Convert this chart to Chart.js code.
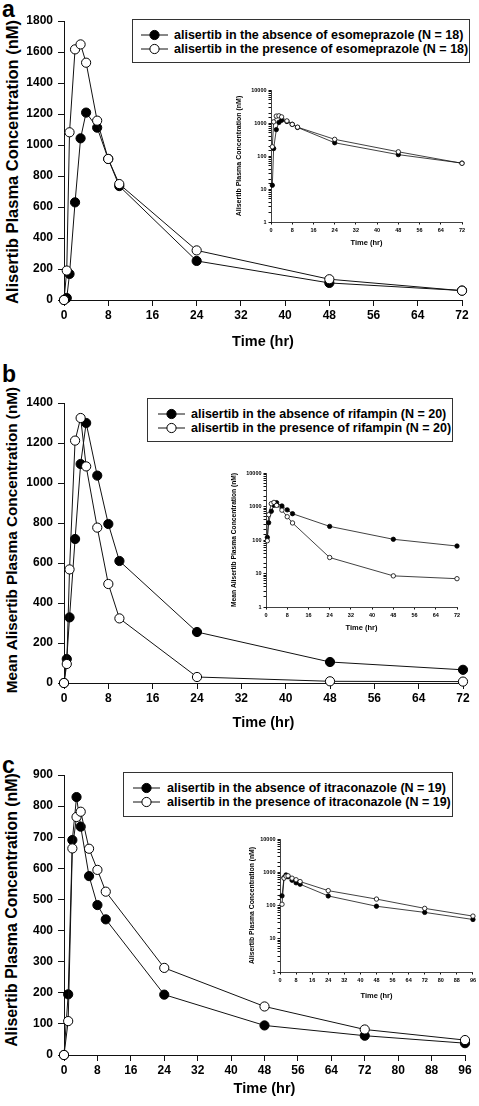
<!DOCTYPE html>
<html>
<head>
<meta charset="utf-8">
<script src="https://cdn.jsdelivr.net/npm/chart.js@4.4.1/dist/chart.umd.min.js"></script>
<style>
  body { margin: 0; background: #fff; width: 479px; height: 1106px; overflow: hidden; position: relative; font-family: "Liberation Sans", Arial, sans-serif; }
  canvas { position: absolute; }
  .letter { position: absolute; font-weight: bold; font-size: 23px; line-height: 23px; color: #000; }
  .ytitle { position: absolute; font-weight: bold; color: #000; white-space: nowrap; transform: translate(-50%, -50%) rotate(-90deg); }
  .legend { position: absolute; border: 1px solid #333; background: #fff; box-sizing: border-box; }
  .legend .row { position: absolute; left: 0; height: 14px; white-space: nowrap; font-weight: bold; font-size: 12.5px; line-height: 14px; color: #000; }
  .legend svg { position: absolute; top: 0; }
  .legend span { position: absolute; top: 0; }
</style>
</head>
<body>

<div class="letter" style="left:2px; top:-2.5px;">a</div>
<div class="letter" style="left:2px; top:362.5px;">b</div>
<div class="letter" style="left:2px; top:753.5px;">c</div>

<div class="ytitle" style="left:11.5px; top:162px; font-size:16.5px;">Alisertib Plasma Concentration (nM)</div>
<div class="ytitle" style="left:11.5px; top:540px; font-size:15.3px;">Mean Alisertib Plasma Concentration (nM)</div>
<div class="ytitle" style="left:11.5px; top:910px; font-size:15.9px;">Alisertib Plasma Concentration (nM)</div>

<canvas id="mainA" width="479" height="360" style="left:0; top:0;"></canvas>
<canvas id="mainB" width="479" height="380" style="left:0; top:360px;"></canvas>
<canvas id="mainC" width="479" height="366" style="left:0; top:740px;"></canvas>
<canvas id="insetA" width="245" height="175" style="left:228px; top:80px;"></canvas>
<canvas id="insetB" width="245" height="175" style="left:225px; top:463px;"></canvas>
<canvas id="insetC" width="239" height="180" style="left:240px; top:829px;"></canvas>

<div id="legA" class="legend" style="left:132px; top:19px; width:338px; height:44px;"></div>
<div id="legB" class="legend" style="left:147px; top:398px; width:306px; height:44px;"></div>
<div id="legC" class="legend" style="left:123px; top:772px; width:330px; height:45px;"></div>

<script>
// panel a: esomeprazole
const timesA = [0, 0.5, 1, 2, 3, 4, 6, 8, 10, 24, 48, 72];
const esoAbsent = [0, 13, 168, 630, 1043, 1209, 1112, 910, 735, 252, 110, 61];
const esoPresent = [0, 190, 1082, 1617, 1649, 1531, 1157, 910, 748, 320, 134, 60];
const labelsA = ['alisertib in the absence of esomeprazole (N = 18)', 'alisertib in the presence of esomeprazole (N = 18)'];

// panel b: rifampin
const timesB = [0, 0.5, 1, 2, 3, 4, 6, 8, 10, 24, 48, 72];
const rifAbsent = [0, 120, 328, 720, 1095, 1300, 1037, 795, 610, 255, 105, 66];
const rifPresent = [0, 95, 568, 1212, 1325, 1083, 777, 495, 323, 30, 8.5, 7];
const labelsB = ['alisertib in the absence of rifampin (N = 20)', 'alisertib in the presence of rifampin (N = 20)'];

// panel c: itraconazole
const timesC = [0, 1, 2, 3, 4, 6, 8, 10, 24, 48, 72, 96];
const itraAbsent = [0, 195, 691, 829, 734, 575, 482, 436, 194, 95, 62, 38];
const itraPresent = [0, 109, 664, 765, 782, 663, 595, 525, 280, 156, 82, 48];
const labelsC = ['alisertib in the absence of itraconazole (N = 19)', 'alisertib in the presence of itraconazole (N = 19)'];

const FONT = '"Liberation Sans", Arial, sans-serif';
const INK = '#111';

function pts(times, vals, logScale) {
    return times.map(function (t, i) {
        var v = vals[i];
        if (logScale && v <= 0) v = null;
        return {x: t, y: v};
    });
}

function plain(v) { return String(v); }

function lineSets(times, absent, present, r, bw, logScale) {
    return [{
        data: pts(times, absent, logScale),
        borderColor: INK, borderWidth: bw,
        pointBackgroundColor: '#000', pointBorderColor: '#000',
        pointRadius: r, pointBorderWidth: bw,
        tension: 0, clip: false, order: 2
    }, {
        data: pts(times, present, logScale),
        borderColor: INK, borderWidth: bw,
        pointBackgroundColor: '#fff', pointBorderColor: '#000',
        pointRadius: r, pointBorderWidth: bw,
        tension: 0, clip: false, order: 1
    }];
}

function makeMain(id, times, absent, present, p) {
    new Chart(document.getElementById(id), {
        type: 'line',
        data: {datasets: lineSets(times, absent, present, 4.6, 1, false)},
        options: {
            responsive: false,
            animation: false,
            events: [],
            layout: {padding: {top: p.top, right: p.right, left: 0, bottom: 0}},
            plugins: {legend: {display: false}, tooltip: {enabled: false}},
            scales: {
                x: {
                    type: 'linear', min: 0, max: p.xMax,
                    ticks: {stepSize: 8, autoSkip: false, maxRotation: 0, color: '#000', padding: 2,
                        font: {family: FONT, size: 12, weight: 'bold'}, callback: plain},
                    grid: {drawOnChartArea: false, tickLength: 6, color: INK},
                    border: {color: INK, width: 1},
                    title: {display: true, text: 'Time (hr)', color: '#000',
                        font: {family: FONT, size: 14.5, weight: 'bold'},
                        padding: {top: 0, bottom: p.titlePad}},
                    afterFit: function (s) { s.height = p.xHeight; }
                },
                y: {
                    type: 'linear', min: 0, max: p.yMax,
                    ticks: {stepSize: p.yStep, autoSkip: false, color: '#000', padding: 5,
                        font: {family: FONT, size: 12, weight: 'bold'}, callback: plain},
                    grid: {drawOnChartArea: false, tickLength: 6, color: INK},
                    border: {color: INK, width: 1},
                    afterFit: function (s) { s.width = 64; }
                }
            }
        }
    });
}

function makeInset(id, times, absent, present, p) {
    new Chart(document.getElementById(id), {
        type: 'line',
        data: {datasets: lineSets(times, absent, present, 2.2, 0.8, true)},
        options: {
            responsive: false,
            animation: false,
            events: [],
            spanGaps: true,
            layout: {padding: {top: 10, right: p.right, left: 0, bottom: 0}},
            plugins: {legend: {display: false}, tooltip: {enabled: false}},
            scales: {
                x: {
                    type: 'linear', min: 0, max: p.xMax,
                    ticks: {stepSize: 8, autoSkip: false, maxRotation: 0, color: '#000', padding: 3,
                        font: {family: FONT, size: 5.5, weight: 'bold'}, callback: plain},
                    grid: {drawOnChartArea: false, tickLength: 2.5, color: INK},
                    border: {color: INK, width: 0.8},
                    title: {display: true, text: 'Time (hr)', color: '#000',
                        font: {family: FONT, size: 7.5, weight: 'bold'},
                        padding: {top: 0, bottom: p.titlePad}},
                    afterFit: function (s) { s.height = p.xHeight; }
                },
                y: {
                    type: 'logarithmic', min: 1, max: 10000,
                    ticks: {autoSkip: false, color: '#000', padding: 2,
                        font: {family: FONT, size: 5.5, weight: 'bold'},
                        callback: function (v) {
                            var l = Math.log10(v);
                            return Math.abs(l - Math.round(l)) < 1e-9 ? String(v) : '';
                        }},
                    grid: {drawOnChartArea: false, tickLength: 2.5, color: INK},
                    border: {color: INK, width: 0.8},
                    title: {display: true, text: p.yTitle, color: '#000',
                        font: {family: FONT, size: p.yTitleSize, weight: 'bold'},
                        padding: {top: p.yTitlePad, bottom: 0}},
                    afterFit: function (s) { s.width = p.yWidth; }
                }
            }
        }
    });
}

function makeLegend(id, labels, lineStart, textStart) {
    var box = document.getElementById(id);
    var fills = ['#000', '#fff'];
    var rows = [8, 22];
    for (var i = 0; i < labels.length; i++) {
        var row = document.createElement('div');
        row.className = 'row';
        row.style.top = rows[i] + 'px';
        row.innerHTML =
            '<svg width="32" height="14" style="left:' + lineStart + 'px">' +
            '<line x1="0" y1="7" x2="27" y2="7" stroke="' + INK + '" stroke-width="1"/>' +
            '<circle cx="13.5" cy="7" r="4.6" fill="' + fills[i] + '" stroke="#000" stroke-width="1"/></svg>' +
            '<span style="left:' + textStart + 'px">' + labels[i] + '</span>';
        box.appendChild(row);
    }
}

makeMain('mainA', timesA, esoAbsent, esoPresent,
    {top: 21, right: 17, xMax: 72, yMax: 1800, yStep: 200, xHeight: 60, titlePad: 9.3});
makeMain('mainB', timesB, rifAbsent, rifPresent,
    {top: 43, right: 16, xMax: 72, yMax: 1400, yStep: 200, xHeight: 57, titlePad: 8.3});
makeMain('mainC', timesC, itraAbsent, itraPresent,
    {top: 35, right: 14, xMax: 96, yMax: 900, yStep: 100, xHeight: 51, titlePad: 8.3});

makeInset('insetA', timesA, esoAbsent, esoPresent,
    {right: 11, xMax: 72, xHeight: 33, titlePad: 7.5, yWidth: 43, yTitlePad: 6.8, yTitleSize: 7,
     yTitle: 'Alisertib Plasma Concentration (nM)'});
makeInset('insetB', timesB, rifAbsent, rifPresent,
    {right: 13, xMax: 72, xHeight: 31, titlePad: 5.5, yWidth: 41, yTitlePad: 4.8, yTitleSize: 6.7,
     yTitle: 'Mean Alisertib Plasma Concentration (nM)'});
makeInset('insetC', timesC, itraAbsent, itraPresent,
    {right: 4, xMax: 96, xHeight: 37, titlePad: 8.5, yWidth: 40, yTitlePad: 7.6, yTitleSize: 6.8,
     yTitle: 'Alisertib Plasma Concentration (nM)'});

makeLegend('legA', labelsA, 8, 41);
makeLegend('legB', labelsB, 10, 43);
makeLegend('legC', labelsC, 9, 43);
</script>
</body>
</html>
